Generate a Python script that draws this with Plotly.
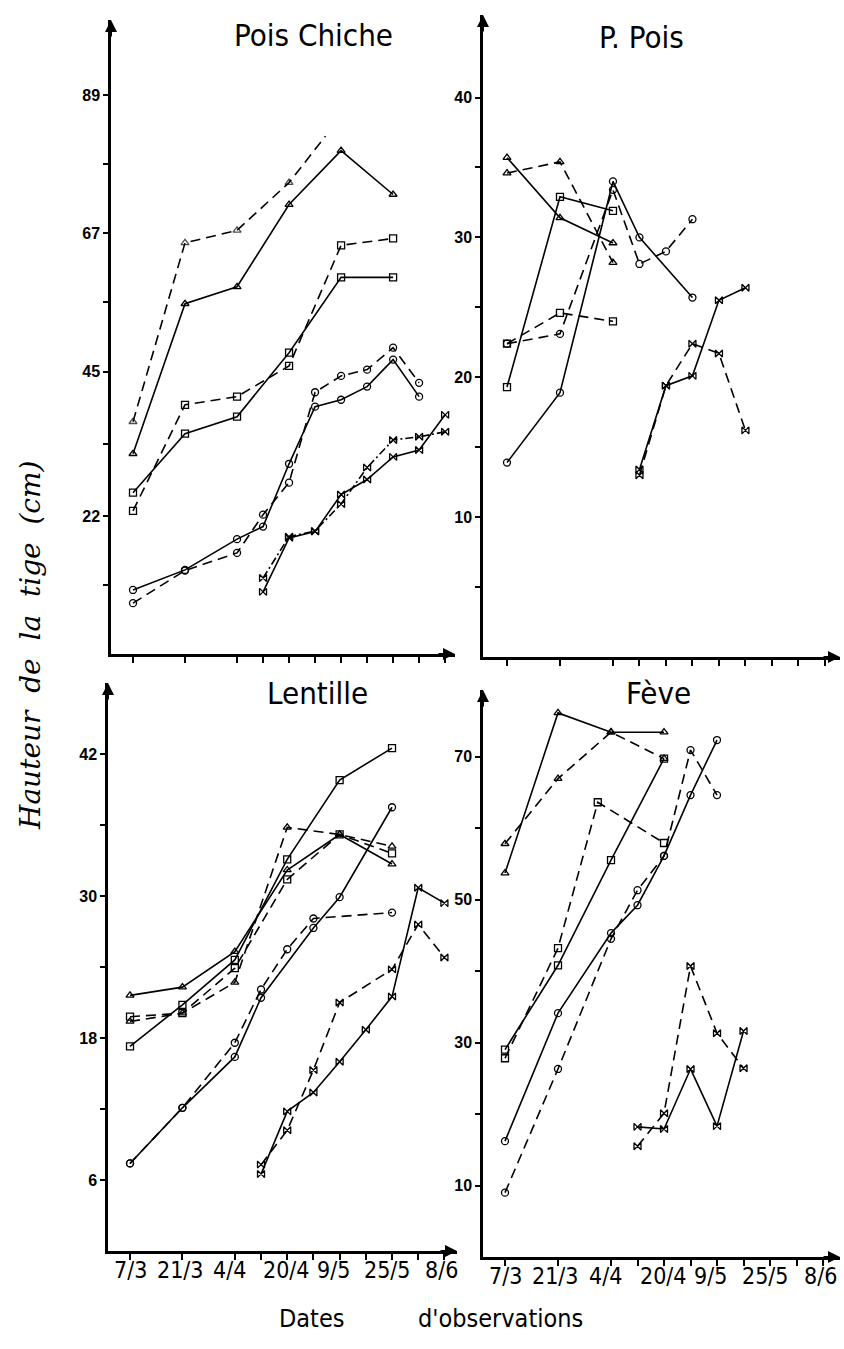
import plotly.graph_objects as go

W, H = 844, 1349

# ---------------- shared axis data ----------------
DATE_LABELS = ["7/3", "21/3", "4/4", "20/4", "9/5", "25/5", "8/6"]
DATE_LABEL_POS = [0, 1.9, 3.8, 5.95, 7.75, 9.8, 11.9]
OBS_WEEKS = [0, 2, 4, 5, 6, 7, 8, 9, 10, 11, 12]

# ---------------- Pois Chiche ----------------
pc_tri_dash_x = [0, 2, 4, 6, 7.4]
pc_tri_dash_y = [37.0, 65.5, 67.5, 75.1, 82.5]
pc_tri_solid_x = [0, 2, 4, 6, 8, 10]
pc_tri_solid_y = [31.9, 55.8, 58.5, 71.6, 80.2, 73.2]
pc_sq_x = [0, 2, 4, 6, 8, 10]
pc_sq_dash_y = [22.8, 39.7, 41.0, 45.9, 65.1, 66.2]
pc_sq_solid_y = [25.7, 35.1, 37.8, 48.0, 60.0, 60.0]
pc_circ_x = [0, 2, 4, 5, 6, 7, 8, 9, 10, 11]
pc_circ_solid_y = [10.2, 13.4, 18.3, 20.3, 30.3, 39.4, 40.5, 42.6, 46.9, 41.0]
pc_circ_dash_y = [8.1, 13.3, 16.1, 22.2, 27.3, 41.7, 44.3, 45.3, 48.8, 43.2]
pc_x_x = [5, 6, 7, 8, 9, 10, 11, 12]
pc_x_solid_y = [9.9, 18.5, 19.5, 25.4, 27.8, 31.4, 32.5, 38.1]
pc_x_dash_y = [12.1, 18.7, 19.6, 23.9, 29.7, 34.1, 34.6, 35.4]

# ---------------- Petit Pois ----------------
pp_first_x = [0, 2, 4]
pp_tri_solid_y = [35.7, 31.4, 29.6]
pp_tri_dash_y = [34.6, 35.4, 28.2]
pp_sq_solid_y = [19.3, 32.9, 31.9]
pp_sq_dash_y = [22.4, 24.6, 24.0]
pp_circ_solid_x = [0, 2, 4, 5, 7]
pp_circ_solid_y = [13.9, 18.9, 34.0, 30.0, 25.7]
pp_circ_dash_x = [0, 2, 4, 5, 6, 7]
pp_circ_dash_y = [22.4, 23.1, 33.4, 28.1, 29.0, 31.3]
pp_x_x = [5, 6, 7, 8, 9]
pp_x_solid_y = [13.4, 19.4, 20.1, 25.5, 26.4]
pp_x_dash_y = [13.0, 19.4, 22.4, 21.7, 16.2]

# ---------------- Lentille ----------------
le_main_x = [0, 2, 4, 6, 8, 10]
le_tri_solid_y = [21.6, 22.3, 25.3, 32.2, 35.2, 32.7]
le_tri_dash_y = [19.4, 20.1, 22.7, 35.8, 35.2, 34.2]
le_sq_solid_y = [17.3, 20.8, 24.6, 33.1, 39.8, 42.5]
le_sq_dash_y = [19.8, 20.1, 23.9, 31.4, 35.2, 33.6]
le_circ_solid_x = [0, 2, 4, 5, 7, 8, 10]
le_circ_solid_y = [7.4, 12.1, 16.4, 21.4, 27.3, 29.9, 37.5]
le_circ_dash_x = [0, 2, 4, 5, 6, 7, 10]
le_circ_dash_y = [7.4, 12.1, 17.6, 22.1, 25.5, 28.1, 28.6]
le_x_solid_x = [5, 6, 7, 8, 9, 10, 11, 12]
le_x_solid_y = [6.5, 11.8, 13.4, 16.0, 18.7, 21.5, 30.7, 29.4]
le_x_dash_x = [5, 6, 7, 8, 10, 11, 12]
le_x_dash_y = [7.3, 10.2, 15.3, 21.0, 23.8, 27.6, 24.8]

# ---------------- Fève ----------------
fe_tri_x = [0, 2, 4, 6]
fe_tri_solid_y = [53.7, 76.1, 73.4, 73.4]
fe_tri_dash_y = [57.8, 66.9, 73.4, 69.7]
fe_sq_solid_x = [0, 2, 4, 6]
fe_sq_solid_y = [29.0, 40.8, 55.5, 69.7]
fe_sq_dash_x = [0, 2, 3.5, 6]
fe_sq_dash_y = [27.8, 43.2, 63.6, 57.9]
fe_circ_x = [0, 2, 4, 5, 6, 7, 8]
fe_circ_solid_y = [16.2, 34.1, 45.3, 49.2, 56.1, 64.6, 72.3]
fe_circ_dash_y = [9.0, 26.3, 44.5, 51.3, 56.1, 70.9, 64.6]
fe_x_x = [5, 6, 7, 8, 9]
fe_x_solid_y = [18.2, 17.9, 26.3, 18.3, 31.6]
fe_x_dash_y = [15.5, 20.1, 40.7, 31.3, 26.4]

# ---------------- styling ----------------
DASH = "10px,6px"
DASHDOT = "8px,3px,2px,3px"
SANS_C = "DejaVu Sans Condensed, Liberation Sans Narrow, Roboto Condensed, sans-serif"

fig = go.Figure()


def add(xs, ys, ax, dash, symbol, sizes=None):
    n = "" if ax == 1 else str(ax)
    fig.add_trace(go.Scatter(
        x=xs, y=ys, xaxis="x" + n, yaxis="y" + n,
        mode="lines+markers", showlegend=False, hoverinfo="skip",
        line=dict(color="black", width=1.6, dash=dash),
        marker=dict(symbol=symbol, size=sizes if sizes else 7, color="black",
                    line=dict(width=1.3, color="black")),
    ))


TRI, SQ, CIR, XX = "triangle-up-open", "square-open", "circle-open", "bowtie-open"

# Pois Chiche (axis 1)
add(pc_tri_dash_x, pc_tri_dash_y, 1, DASH, TRI, [7, 7, 7, 7, 0])
add(pc_tri_solid_x, pc_tri_solid_y, 1, "solid", TRI)
add(pc_sq_x, pc_sq_dash_y, 1, DASH, SQ)
add(pc_sq_x, pc_sq_solid_y, 1, "solid", SQ)
add(pc_circ_x, pc_circ_solid_y, 1, "solid", CIR)
add(pc_circ_x, pc_circ_dash_y, 1, DASH, CIR)
add(pc_x_x, pc_x_solid_y, 1, "solid", XX)
add(pc_x_x, pc_x_dash_y, 1, DASHDOT, XX)

# P. Pois (axis 2)
add(pp_first_x, pp_tri_solid_y, 2, "solid", TRI)
add(pp_first_x, pp_tri_dash_y, 2, DASH, TRI)
add(pp_first_x, pp_sq_solid_y, 2, "solid", SQ)
add(pp_first_x, pp_sq_dash_y, 2, DASH, SQ)
add(pp_circ_solid_x, pp_circ_solid_y, 2, "solid", CIR)
add(pp_circ_dash_x, pp_circ_dash_y, 2, DASH, CIR)
add(pp_x_x, pp_x_solid_y, 2, "solid", XX)
add(pp_x_x, pp_x_dash_y, 2, DASH, XX)

# Lentille (axis 3)
add(le_main_x, le_tri_solid_y, 3, "solid", TRI)
add(le_main_x, le_tri_dash_y, 3, DASH, TRI)
add(le_main_x, le_sq_solid_y, 3, "solid", SQ)
add(le_main_x, le_sq_dash_y, 3, DASH, SQ)
add(le_circ_solid_x, le_circ_solid_y, 3, "solid", CIR)
add(le_circ_dash_x, le_circ_dash_y, 3, DASH, CIR)
add(le_x_solid_x, le_x_solid_y, 3, "solid", XX)
add(le_x_dash_x, le_x_dash_y, 3, DASH, XX)

# Fève (axis 4)
add(fe_tri_x, fe_tri_solid_y, 4, "solid", TRI)
add(fe_tri_x, fe_tri_dash_y, 4, DASH, TRI)
add(fe_sq_solid_x, fe_sq_solid_y, 4, "solid", SQ)
add(fe_sq_dash_x, fe_sq_dash_y, 4, DASH, SQ)
add(fe_circ_x, fe_circ_solid_y, 4, "solid", CIR)
add(fe_circ_x, fe_circ_dash_y, 4, DASH, CIR)
add(fe_x_x, fe_x_solid_y, 4, "solid", XX)
add(fe_x_x, fe_x_dash_y, 4, DASH, XX)

# panel geometry in pixels: (left, right), (bottom, top), ranges and tick values
panels = {
    1: dict(px=(111, 455), py=(654, 20), xr=[-0.846, 12.38], yr=[0, 101],
            yt=[22, 45, 67, 89], ym=[11, 33.5, 56, 78], labels=False),
    2: dict(px=(483, 840), py=(657, 15), xr=[-0.906, 12.57], yr=[0, 45.9],
            yt=[10, 20, 30, 40], ym=[5, 15, 25, 35], labels=False),
    3: dict(px=(108, 457), py=(1251, 683), xr=[-0.84, 12.48], yr=[0, 48],
            yt=[6, 18, 30, 42], ym=[12, 24, 36], labels=True),
    4: dict(px=(483, 840), py=(1257, 690), xr=[-0.83, 12.64], yr=[0, 79.3],
            yt=[10, 30, 50, 70], ym=[20, 40, 60], labels=True),
}

layout = dict(
    width=W, height=H, margin=dict(l=0, r=0, t=0, b=0),
    paper_bgcolor="white", plot_bgcolor="white",
    annotations=[],
)

for k, p in panels.items():
    n = "" if k == 1 else str(k)
    xd = [p["px"][0] / W, p["px"][1] / W]
    yd = [1 - p["py"][0] / H, 1 - p["py"][1] / H]
    layout["xaxis" + n] = dict(
        domain=xd, range=p["xr"], anchor="y" + n,
        showline=True, linecolor="black", linewidth=2.5,
        showgrid=False, zeroline=False,
        tickmode="array", tickvals=OBS_WEEKS, ticktext=[""] * len(OBS_WEEKS),
        ticks="outside", ticklen=6, tickwidth=1.5, tickcolor="black",
        showticklabels=False, fixedrange=True,
    )
    ytv = p["yt"] + p["ym"]
    ytt = [str(v) for v in p["yt"]] + [""] * len(p["ym"])
    layout["yaxis" + n] = dict(
        domain=yd, range=p["yr"], anchor="x" + n,
        showline=True, linecolor="black", linewidth=2.5,
        showgrid=False, zeroline=False,
        tickmode="array", tickvals=ytv, ticktext=ytt,
        ticks="outside", ticklen=5, tickwidth=1.5, tickcolor="black",
        tickfont=dict(family="Liberation Sans, Arial, sans-serif", size=16,
                      color="black", weight="bold"),
        fixedrange=True,
    )
    # date labels under the bottom panels, placed through the x scale
    if p["labels"]:
        for lab, pos in zip(DATE_LABELS, DATE_LABEL_POS):
            layout["annotations"].append(dict(
                text=lab, x=pos, xref="x" + n, y=yd[0], yref="paper",
                yshift=-4, showarrow=False, xanchor="center", yanchor="top",
                font=dict(family=SANS_C, size=23, color="black")))
    # axis arrowheads
    layout["annotations"].append(dict(
        x=xd[0], y=yd[1], xref="paper", yref="paper", text="", showarrow=True,
        ax=0, ay=18, arrowhead=2, arrowsize=1.2, arrowwidth=2, arrowcolor="black"))
    layout["annotations"].append(dict(
        x=xd[1], y=yd[0], xref="paper", yref="paper", text="", showarrow=True,
        ax=-18, ay=0, arrowhead=2, arrowsize=1.2, arrowwidth=2, arrowcolor="black"))

titles = [("Pois Chiche", 313, 35), ("P. Pois", 641, 37),
          ("Lentille", 317, 693), ("Fève", 658, 693)]
for t, x, y in titles:
    layout["annotations"].append(dict(
        text=t, x=x / W, y=1 - y / H, xref="paper", yref="paper",
        showarrow=False, xanchor="center", yanchor="middle",
        font=dict(family=SANS_C, size=31, color="black")))

layout["annotations"].append(dict(
    text="<i>Hauteur\u00a0\u00a0de\u00a0\u00a0la\u00a0\u00a0tige\u00a0\u00a0(cm)</i>",
    x=30 / W, y=1 - 645 / H,
    xref="paper", yref="paper", showarrow=False, textangle=-90,
    xanchor="center", yanchor="middle",
    font=dict(family="DejaVu Serif, Liberation Serif, serif", size=28, color="black")))
layout["annotations"].append(dict(
    text="Dates", x=311 / W, y=1 - 1318 / H, xref="paper", yref="paper",
    showarrow=False, xanchor="center", yanchor="middle",
    font=dict(family=SANS_C, size=25, color="black")))
layout["annotations"].append(dict(
    text="d'observations", x=500 / W, y=1 - 1318 / H, xref="paper", yref="paper",
    showarrow=False, xanchor="center", yanchor="middle",
    font=dict(family=SANS_C, size=25, color="black")))

fig.update_layout(**layout)
fig.write_html("out.html", config={"displayModeBar": False},
               post_script="document.body.style.margin='0px';")
